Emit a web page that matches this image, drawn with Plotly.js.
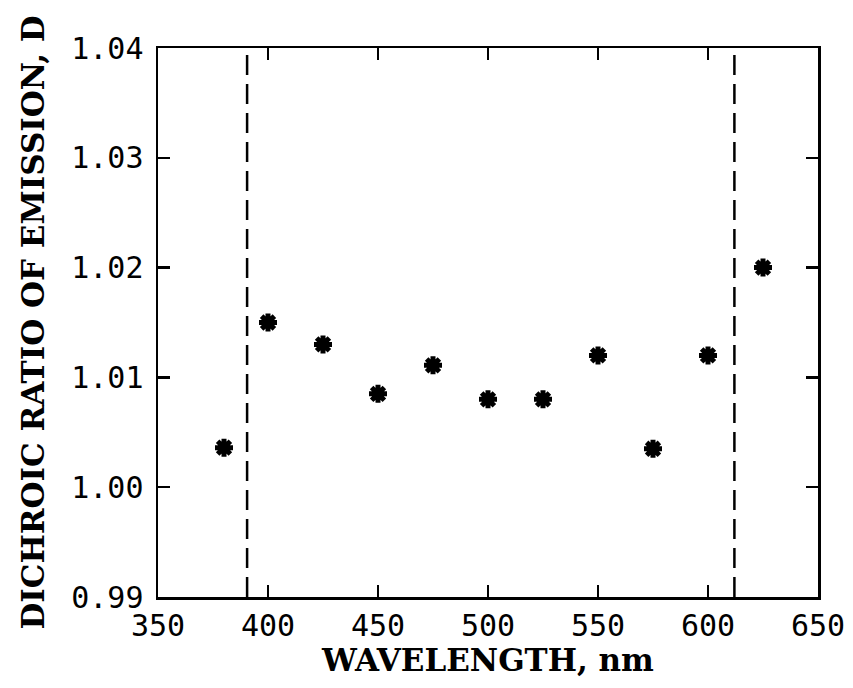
<!DOCTYPE html>
<html>
<head>
<meta charset="utf-8">
<script src="https://cdn.plot.ly/plotly-3.0.1.min.js"></script>
<style>html,body{margin:0;padding:0;background:#fff;}</style>
</head>
<body>
<div id="chart" style="width:853px;height:688px;"></div>
<script>
// Data
const wavelength = [380, 400, 425, 450, 475, 500, 525, 550, 575, 600, 625];
const dichroicRatio = [1.0036, 1.0150, 1.0130, 1.0085, 1.0111, 1.0080, 1.0080, 1.0120, 1.0035, 1.0120, 1.0200];
const cutoffWavelengths = [390.5, 612];
const yRange = [0.99, 1.04];
const xRange = [350, 650];

const traces = [];
cutoffWavelengths.forEach(w => {
  traces.push({
    type: 'scatter', mode: 'lines',
    x: [w, w], y: yRange,
    line: {color: '#000', width: 2.5, dash: '20px,9px'},
    hoverinfo: 'skip', showlegend: false
  });
});
traces.push({
  type: 'scatter', mode: 'markers',
  x: wavelength, y: dichroicRatio,
  marker: {symbol: 'asterisk-open', size: 15, color: '#000', line: {color: '#000', width: 5}},
  showlegend: false
});

const tickFont = {family: 'DejaVu Sans Mono', size: 30, color: '#000'};
const xTitleFont = {family: "'DejaVu Serif', serif", size: 31, color: '#000', weight: 'bold'};
const yTitleFont = {family: "'DejaVu Serif', serif", size: 31, color: '#000', weight: 'bold'};

const layout = {
  width: 853, height: 688,
  margin: {l: 158, r: 35, t: 48, b: 91, pad: 0},
  paper_bgcolor: '#fff', plot_bgcolor: '#fff',
  xaxis: {
    range: xRange, dtick: 50, tick0: 350,
    showgrid: false, zeroline: false,
    showline: true, linecolor: '#000', linewidth: 2.5, mirror: 'allticks',
    ticks: 'inside', ticklen: 12, tickwidth: 2.5, tickcolor: '#000',
    tickfont: tickFont,
    title: {text: 'WAVELENGTH, nm', font: xTitleFont, standoff: 8}
  },
  yaxis: {
    range: yRange, dtick: 0.01, tick0: 0.99, tickformat: '.2f',
    showgrid: false, zeroline: false,
    showline: true, linecolor: '#000', linewidth: 2.5, mirror: 'allticks',
    ticks: 'inside', ticklen: 12, tickwidth: 2.5, tickcolor: '#000',
    tickfont: tickFont, ticklabelstandoff: 6,
    title: {text: 'DICHROIC RATIO OF EMISSION, D', font: yTitleFont, standoff: 18}
  }
};

Plotly.newPlot('chart', traces, layout, {displayModeBar: false, staticPlot: true});
</script>
</body>
</html>
